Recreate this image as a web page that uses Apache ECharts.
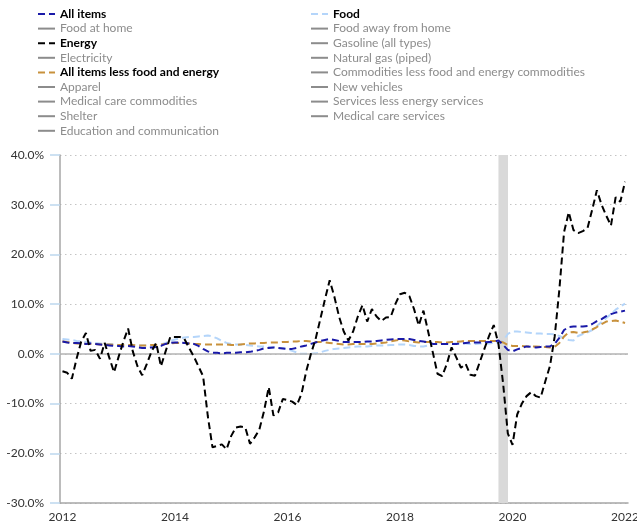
<!DOCTYPE html>
<html><head><meta charset="utf-8">
<script src="https://cdn.jsdelivr.net/npm/echarts@6/dist/echarts.min.js"></script>
<style>html,body{margin:0;padding:0;background:#fff}#c{width:637px;height:527px}</style>
</head><body><div id="c"></div>
<script>
// monthly points, first one at the "2012" tick
const startYear = 2012;
const allItems = [
 2.5, 2.3, 2.2, 2.2, 2.1, 2.0, 2.1, 2.0, 1.9, 1.8,
 1.7, 1.6, 1.6, 1.5, 1.6, 1.5, 1.3, 1.2, 1.2, 1.3,
 1.4, 1.6, 2.0, 2.2, 2.3, 2.3, 2.2, 2.1, 2.0, 1.6,
 1.0, 0.5, 0.2, 0.2, 0.1, 0.2, 0.2, 0.2, 0.3, 0.3,
 0.4, 0.6, 0.8, 1.1, 1.2, 1.3, 1.2, 1.1, 1.0, 1.0,
 1.2, 1.5, 1.7, 2.0, 2.3, 2.6, 2.8, 3.0, 2.8, 2.6,
 2.4, 2.4, 2.4, 2.4, 2.4, 2.5, 2.5, 2.6, 2.7, 2.8,
 2.9, 3.0, 3.0, 3.0, 3.0, 2.8, 2.6, 2.5, 2.3, 2.0,
 2.0, 2.0, 2.0, 2.0, 2.0, 2.1, 2.2, 2.3, 2.3, 2.3,
 2.3, 2.4, 2.4, 2.7, 1.8, 0.8, 0.5, 0.9, 1.2, 1.5,
 1.4, 1.3, 1.4, 1.5, 1.5, 2.0, 3.2, 4.8, 5.4, 5.5,
 5.5, 5.5, 5.6, 6.0, 6.6, 7.0, 7.6, 8.0, 8.3, 8.5, 8.7
];
const food = [
 3.0, 2.9, 2.8, 2.6, 2.5, 2.4, 2.3, 2.2, 2.1, 2.0,
 2.0, 1.9, 1.8, 1.7, 1.7, 1.7, 1.7, 1.7, 1.7, 1.7,
 1.7, 1.9, 2.2, 2.6, 2.9, 3.1, 3.3, 3.4, 3.4, 3.5,
 3.6, 3.7, 3.5, 3.1, 2.6, 2.2, 2.0, 1.9, 1.9, 1.8,
 1.7, 1.6, 1.5, 1.5, 1.4, 1.3, 1.2, 1.2, 0.9, 0.6,
 0.3, 0.0, 0.0, 0.0, 0.1, 0.3, 0.6, 0.8, 1.0, 1.1,
 1.2, 1.3, 1.4, 1.5, 1.5, 1.5, 1.6, 1.7, 1.7, 1.7,
 1.8, 1.8, 1.9, 1.9, 1.8, 1.6, 1.5, 1.5, 1.7, 2.0,
 2.0, 2.0, 2.0, 2.0, 2.1, 2.1, 2.1, 2.0, 2.0, 2.1,
 2.1, 2.1, 2.2, 2.2, 2.6, 4.0, 4.5, 4.5, 4.4, 4.3,
 4.2, 4.1, 4.1, 4.0, 4.0, 3.9, 3.6, 3.1, 2.8, 2.7,
 3.6, 4.0, 4.3, 4.8, 5.6, 6.4, 7.2, 8.0, 8.9, 9.5, 10.1
];
const energy = [
 -3.5, -3.8, -5.0, -1.0, 2.5, 4.2, 0.6, 0.8, -1.0, 2.2,
 -0.8, -3.7, -0.5, 2.5, 5.1, 0.5, -2.5, -4.3, -2.0, 0.5,
 2.2, -2.5, 0.5, 3.4, 3.4, 3.4, 3.0, 1.2, -0.5, -2.5,
 -4.5, -12.5, -18.8, -18.5, -18.2, -19.2, -16.5, -14.8, -14.6, -14.8,
 -18.1, -16.8, -15.2, -11.5, -6.7, -12.4, -11.8, -9.1, -9.3, -9.6,
 -10.3, -8.0, -3.5, 0.0, 3.0, 7.0, 11.0, 14.8, 11.5, 7.5,
 4.5, 2.7, 4.5, 7.5, 9.8, 6.5, 9.0, 7.5, 6.6, 7.3,
 7.4, 10.0, 12.0, 12.3, 11.6, 9.0, 5.7, 8.7, 4.5, 0.3,
 -4.0, -4.5, -2.0, 1.3, -0.7, -2.8, -2.0, -4.2, -4.4, -1.7,
 1.0, 3.6, 5.8, 2.0, -6.0, -16.0, -18.3, -12.2, -10.0, -8.5,
 -7.7, -8.5, -8.8, -5.5, -2.4, 3.5, 13.0, 24.5, 28.5, 24.9,
 24.3, 24.7, 25.3, 29.0, 32.9, 30.0, 27.8, 25.8, 31.5, 30.6, 34.6
];
const core = [
 2.5, 2.4, 2.2, 2.1, 2.1, 2.0, 2.0, 2.0, 1.9, 1.9,
 1.9, 1.8, 1.8, 1.8, 1.8, 1.8, 1.7, 1.7, 1.7, 1.8,
 1.8, 1.9, 2.0, 2.1, 2.2, 2.2, 2.2, 2.1, 2.0, 2.0,
 1.9, 1.9, 1.9, 1.9, 1.9, 1.9, 1.8, 1.8, 1.9, 2.0,
 2.1, 2.1, 2.2, 2.2, 2.3, 2.3, 2.3, 2.4, 2.4, 2.5,
 2.5, 2.6, 2.6, 2.5, 2.4, 2.4, 2.3, 2.2, 2.1, 2.0,
 1.9, 1.9, 2.0, 2.0, 2.0, 2.0, 2.0, 2.1, 2.2, 2.3,
 2.5, 2.7, 2.8, 2.7, 2.5, 2.4, 2.3, 2.4, 2.4, 2.4,
 2.4, 2.3, 2.3, 2.4, 2.4, 2.5, 2.6, 2.6, 2.6, 2.6,
 2.6, 2.6, 2.6, 2.6, 2.3, 1.8, 1.6, 1.6, 1.6, 1.5,
 1.5, 1.5, 1.4, 1.4, 1.3, 1.4, 2.2, 3.5, 4.3, 4.4,
 4.2, 4.3, 4.5, 4.9, 5.4, 6.0, 6.5, 6.6, 6.7, 6.5, 6.2
];
const xTickYears = [2012, 2014, 2016, 2018, 2020, 2022];
const yTicks = [-30, -20, -10, 0, 10, 20, 30, 40];
const recession = [2019.75, 2019.92];

const shownNames = ['All items', 'Food', 'Energy', 'All items less food and energy'];
const shownColors = ['#1a1aa8', '#b4d5fa', '#000000', '#c8913c'];
const legendLeftNames = ['All items', 'Food at home', 'Energy', 'Electricity',
  'All items less food and energy', 'Apparel', 'Medical care commodities', 'Shelter',
  'Education and communication'];
const legendRightNames = ['Food', 'Food away from home', 'Gasoline (all types)', 'Natural gas (piped)',
  'Commodities less food and energy commodities', 'New vehicles', 'Services less energy services',
  'Medical care services'];

const months = allItems.map((_, i) => startYear + i / 12);
const pair = arr => arr.map((v, i) => [months[i], v]);
const shownData = [allItems, food, energy, core];

const FONT = 'Lato';
const selected = {};
legendLeftNames.concat(legendRightNames).forEach(n => { selected[n] = shownNames.includes(n); });

const series = [];
// background: recession shading + zero line
series.push({
  type: 'line', name: '__bg', data: [], z: 1, silent: true,
  markArea: { silent: true, itemStyle: { color: '#d9d9d9' },
    data: [[{ xAxis: recession[0] }, { xAxis: recession[1] }]] },
  markLine: { silent: true, symbol: 'none', label: { show: false },
    lineStyle: { color: '#b3b3b3', width: 1.5, type: 'solid' },
    data: [{ yAxis: 0 }] }
});
const drawOrder = [1, 3, 0, 2];
drawOrder.forEach((k, j) => {
  series.push({
    type: 'line', name: shownNames[k], data: pair(shownData[k]),
    showSymbol: false, symbol: 'none', z: 3 + j,
    color: shownColors[k],
    lineStyle: { color: shownColors[k], width: 2, type: [7, 4] }
  });
});
legendLeftNames.concat(legendRightNames).forEach(n => {
  if (!shownNames.includes(n)) {
    series.push({ type: 'line', name: n, data: [], symbol: 'none', color: '#8c8c8c',
      lineStyle: { type: 'solid', width: 2, color: '#8c8c8c' } });
  }
});

function legendData(names) {
  return names.map(n => shownNames.includes(n)
    ? { name: n, textStyle: { fontWeight: 'bold', color: '#000' } }
    : { name: n, textStyle: { color: '#8c8c8c' } });
}
function makeLegend(names, left) {
  return {
    orient: 'vertical', left: left, top: 7, padding: 0,
    itemWidth: 17, itemHeight: 14, itemGap: 0.6,
    data: legendData(names), selected: selected, selectedMode: true,
    inactiveColor: '#8c8c8c', inactiveBorderColor: '#8c8c8c',
    itemStyle: { opacity: 0 },
    lineStyle: { inactiveColor: '#8c8c8c', inactiveWidth: 2 },
    textStyle: { fontFamily: FONT, fontSize: 12, color: '#000', lineHeight: 14 }
  };
}

const chart = echarts.init(document.getElementById('c'), null, { renderer: 'canvas' });
chart.setOption({
  animation: false,
  backgroundColor: '#ffffff',
  legend: [makeLegend(legendLeftNames, 37), makeLegend(legendRightNames, 310)],
  grid: { left: 60, right: 9, top: 155, bottom: 24, outerBoundsMode: 'none', containLabel: false },
  xAxis: {
    type: 'value', min: 2011.956, max: 2022.053,
    axisLine: { onZero: false, lineStyle: { color: '#a6a6a6', width: 1.5 } },
    axisTick: { show: false },
    splitLine: { show: false },
    axisLabel: { customValues: xTickYears, formatter: v => String(Math.round(v)),
      color: '#333', fontFamily: FONT, fontSize: 12, margin: 8 }
  },
  yAxis: {
    type: 'value', min: yTicks[0], max: yTicks[yTicks.length - 1], interval: 10,
    axisLine: { show: true, lineStyle: { color: '#a6a6a6', width: 1.5 } },
    axisTick: { show: true, length: 10, lineStyle: { color: '#bdd7ee', width: 1.5 } },
    splitLine: { show: true, lineStyle: { color: '#c4c4c4', width: 1, type: [1.5, 3.5] } },
    axisLabel: { formatter: v => v.toFixed(1) + '%', color: '#333', fontFamily: FONT, fontSize: 12, margin: 16 }
  },
  series: series
});
</script></body></html>
